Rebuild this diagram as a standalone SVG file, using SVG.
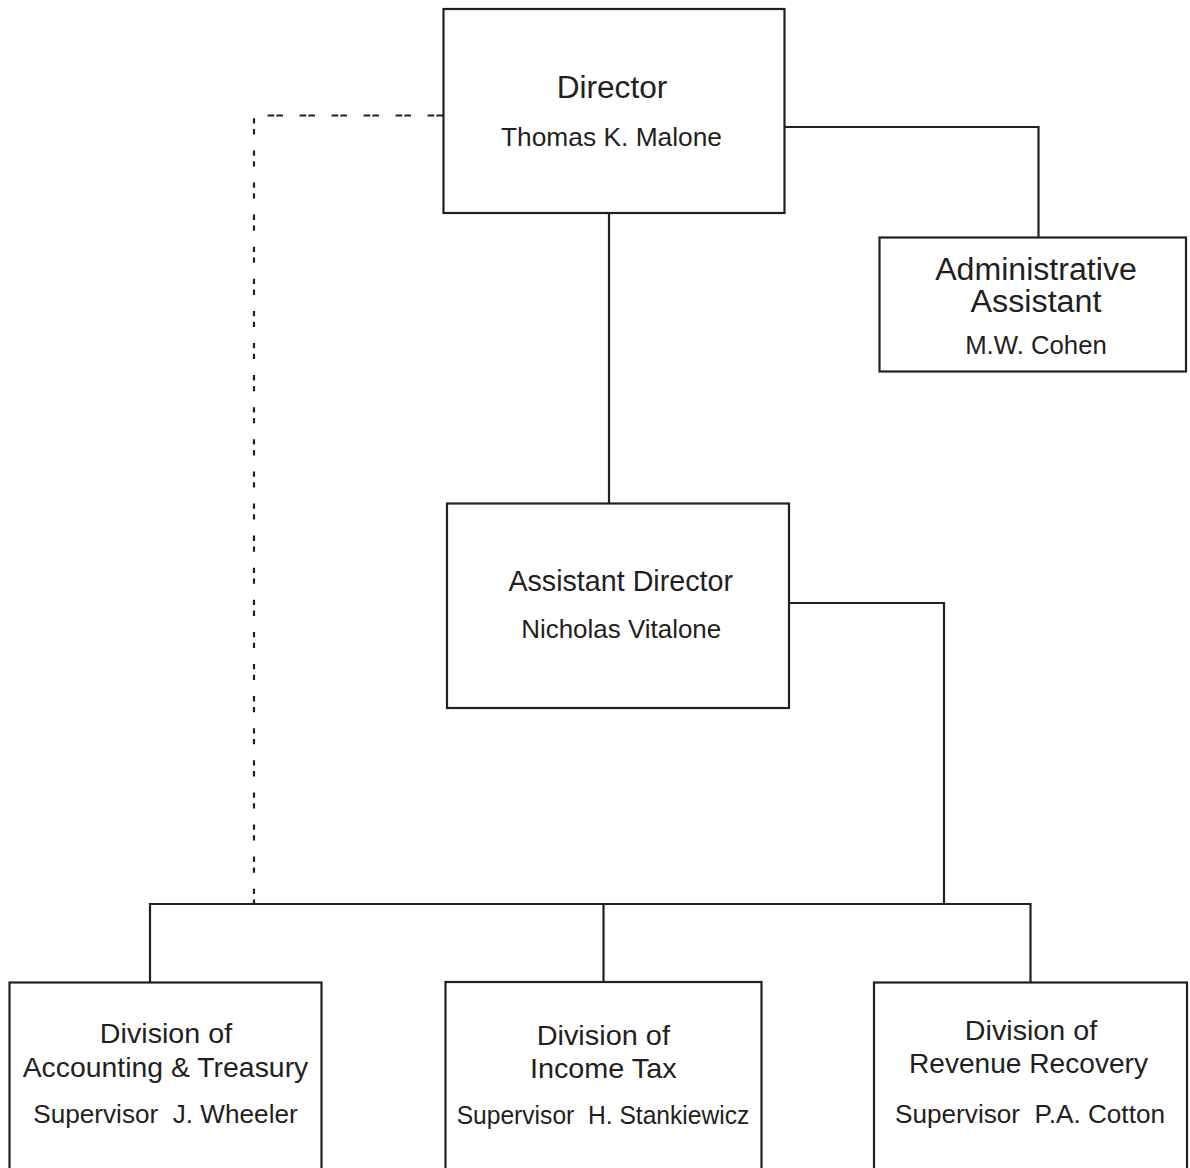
<svg xmlns="http://www.w3.org/2000/svg" width="1190" height="1168" viewBox="0 0 1190 1168">
<style>
  .box { fill: #ffffff; stroke: #231f20; stroke-width: 2.2; }
  .line { fill: none; stroke: #231f20; stroke-width: 2.2; }
  .dotted-h { fill: none; stroke: #231f20; stroke-width: 2.2; stroke-dasharray: 6.6 2.2 6.6 16.6; stroke-dashoffset: 0; }
  .dotted-v { fill: none; stroke: #231f20; stroke-width: 2.2; stroke-dasharray: 5.3 5.5 5.3 16; }
  text { font-family: "Liberation Sans", Arial, Helvetica, sans-serif; fill: #231f20; text-anchor: middle; }
  .t1 { font-size: 31px; }
  .t2 { font-size: 29px; }
  .t3 { font-size: 28px; }
  .n { font-size: 26px; }
</style>
<rect width="1190" height="1168" fill="#ffffff"/>
<g id="connectors">
  <path class="line" d="M609,213 V503"/>
  <path class="line" d="M784.5,127 H1038.5 V237.5"/>
  <path class="line" d="M789,603 H944 V904"/>
  <path class="line" d="M150,982 V904 H1030.5 V982"/>
  <path class="line" d="M603.5,904 V982"/>
  <path class="dotted-h" d="M443,115.5 H254"/>
  <path class="dotted-v" d="M254,118.3 V904"/>
</g>
<g id="director">
  <rect class="box" x="443.5" y="9" width="341" height="204"/>
  <text class="t1" x="612" y="98.3" textLength="110.6" lengthAdjust="spacingAndGlyphs">Director</text>
  <text class="n" x="611.5" y="145.7" textLength="221" lengthAdjust="spacingAndGlyphs">Thomas K. Malone</text>
</g>
<g id="admin-assistant">
  <rect class="box" x="879.5" y="237.5" width="306.5" height="134"/>
  <text class="t1" x="1036" y="280" textLength="201.7" lengthAdjust="spacingAndGlyphs">Administrative</text>
  <text class="t1" x="1036" y="311.7" textLength="131" lengthAdjust="spacingAndGlyphs">Assistant</text>
  <text class="n" x="1036" y="354" textLength="141.7" lengthAdjust="spacingAndGlyphs">M.W. Cohen</text>
</g>
<g id="assistant-director">
  <rect class="box" x="447" y="503.5" width="342" height="204.5"/>
  <text class="t2" x="620.7" y="591.4" textLength="224.6" lengthAdjust="spacingAndGlyphs">Assistant Director</text>
  <text class="n" x="621.2" y="637.6" textLength="200" lengthAdjust="spacingAndGlyphs">Nicholas Vitalone</text>
</g>
<g id="div-accounting">
  <rect class="box" x="9.5" y="982.5" width="312" height="200"/>
  <text class="t3" x="166" y="1042.7" textLength="132.3" lengthAdjust="spacingAndGlyphs">Division of</text>
  <text class="t3" x="165.5" y="1076.7" textLength="285.6" lengthAdjust="spacingAndGlyphs">Accounting &amp; Treasury</text>
  <text class="n" x="165.5" y="1123.3" textLength="264.4" lengthAdjust="spacingAndGlyphs" xml:space="preserve">Supervisor  J. Wheeler</text>
</g>
<g id="div-income-tax">
  <rect class="box" x="445.5" y="982" width="316" height="200"/>
  <text class="t3" x="603.3" y="1045" textLength="133.3" lengthAdjust="spacingAndGlyphs">Division of</text>
  <text class="t3" x="603.3" y="1077.7" textLength="146.7" lengthAdjust="spacingAndGlyphs">Income Tax</text>
  <text class="n" x="603" y="1124.3" textLength="292.7" lengthAdjust="spacingAndGlyphs" xml:space="preserve">Supervisor  H. Stankiewicz</text>
</g>
<g id="div-revenue-recovery">
  <rect class="box" x="874" y="982.5" width="313" height="200"/>
  <text class="t3" x="1031" y="1040" textLength="132.3" lengthAdjust="spacingAndGlyphs">Division of</text>
  <text class="t3" x="1028.5" y="1073.3" textLength="239" lengthAdjust="spacingAndGlyphs">Revenue Recovery</text>
  <text class="n" x="1030" y="1122.7" textLength="270" lengthAdjust="spacingAndGlyphs" xml:space="preserve">Supervisor  P.A. Cotton</text>
</g>
</svg>
